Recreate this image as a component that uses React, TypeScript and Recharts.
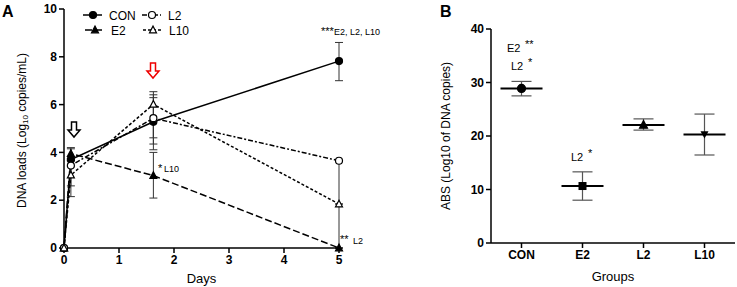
import { LineChart, Line, XAxis, YAxis, ErrorBar, ComposedChart } from 'recharts'

// panel A: DNA loads over time
const days = [0, 0.125, 1.625, 5]
const conLoad = [0, 3.7, 5.28, 7.82]
const e2Load = [0, 3.95, 3.03, 0]
const l2Load = [0, 3.45, 5.43, 3.65]
const l10Load = [0, 3.05, 6.01, 1.84]
const conErr = [[0, 0], [0.3, 0.45], [0.93, 1.01], [0.82, 0.78]]
const e2Err = [[0, 0], [0.3, 0.25], [0.94, 0.97], [0, 0]]
const l2Err = [[0, 0], [0.85, 0.3], [1.32, 0.98], [3.65, 0]]
const l10Err = [[0, 0], [0.9, 0.6], [1.4, 0.53], [0, 0]]
const dayTicks = [0, 1, 2, 3, 4, 5]
const loadTicks = [0, 2, 4, 6, 8, 10]

// panel B: ABS per group
const groups = ['CON', 'E2', 'L2', 'L10']
const absMean = [28.9, 10.65, 22.05, 20.3]
const absErr = [[1.4, 1.3], [2.65, 2.65], [0.95, 1.15], [3.85, 3.8]]
const absTicks = [0, 10, 20, 30, 40]

const timeData = days.map((d, i) => ({
  day: d,
  con: conLoad[i],
  e2: e2Load[i],
  l2: l2Load[i],
  l10: l10Load[i],
  conErr: conErr[i],
  e2Err: e2Err[i],
  l2Err: l2Err[i],
  l10Err: l10Err[i],
}))

const groupData = groups.map((g, i) => ({ group: g, abs: absMean[i], err: absErr[i] }))

const FONT = '"Liberation Sans", Arial, sans-serif'
const tickStyle = { fontSize: 12, fontWeight: 700, fill: '#000', fontFamily: FONT }

type Mark = 'circle' | 'openCircle' | 'triangle' | 'openTriangle' | 'square' | 'triangleDown'

function marker(kind: Mark, cx: number, cy: number, r = 3.5) {
  const filled = !kind.startsWith('open')
  const fill = filled ? '#000' : '#fff'
  if (kind === 'circle' || kind === 'openCircle')
    return <circle cx={cx} cy={cy} r={r} fill={fill} stroke="#000" strokeWidth={1.2} />
  if (kind === 'square')
    return <rect x={cx - r} y={cy - r} width={r * 2} height={r * 2} fill="#000" />
  if (kind === 'triangleDown')
    return <path d={`M${cx - r},${cy - r * 0.8} L${cx + r},${cy - r * 0.8} L${cx},${cy + r}Z`} fill="#000" />
  return (
    <path
      d={`M${cx},${cy - r * 1.1} L${cx + r},${cy + r * 0.8} L${cx - r},${cy + r * 0.8}Z`}
      fill={fill}
      stroke="#000"
      strokeWidth={1.2}
    />
  )
}

const dotFor = (kind: Mark) => (p: any) => <g key={`${kind}-${p.index}`}>{marker(kind, p.cx, p.cy)}</g>

const groupMarks: Mark[] = ['circle', 'square', 'triangle', 'triangleDown']
const groupDot = (p: any) => (
  <g key={`g-${p.index}`}>
    <line x1={p.cx - 21} x2={p.cx + 21} y1={p.cy} y2={p.cy} stroke="#000" strokeWidth={2} />
    {marker(groupMarks[p.index], p.cx, p.cy, 4)}
  </g>
)

const series = [
  { key: 'con', name: 'CON', dash: undefined, mark: 'circle' as Mark },
  { key: 'e2', name: 'E2', dash: '7 3', mark: 'triangle' as Mark },
  { key: 'l2', name: 'L2', dash: '5 2 2 2', mark: 'openCircle' as Mark },
  { key: 'l10', name: 'L10', dash: '3 2', mark: 'openTriangle' as Mark },
]

function LegendA() {
  const pos = [
    { s: series[0], x: 83, y: 15 },
    { s: series[2], x: 142, y: 15 },
    { s: series[1], x: 85, y: 30 },
    { s: series[3], x: 143, y: 30 },
  ]
  return (
    <g>
      {pos.map(({ s, x, y }) => (
        <g key={s.key}>
          <line x1={x} x2={x + 19} y1={y} y2={y} stroke="#000" strokeWidth={1.5} strokeDasharray={s.dash} />
          {marker(s.mark, x + 10, y)}
          <text x={x + 26} y={y + 4.5} fontSize={12} fill="#000">
            {s.name}
          </text>
        </g>
      ))}
    </g>
  )
}

function HollowArrow({ x, y, color }: { x: number; y: number; color: string }) {
  return (
    <path
      d={`M${x - 2.5},${y} L${x + 2.5},${y} L${x + 2.5},${y + 8} L${x + 6},${y + 8} L${x},${y + 15} L${x - 6},${y + 8} L${x - 2.5},${y + 8}Z`}
      fill="#fff"
      stroke={color}
      strokeWidth={1.5}
    />
  )
}

export default function App() {
  return (
    <div style={{ position: 'absolute', left: 0, top: 0, width: 737, height: 287, background: '#fff', fontFamily: FONT }}>
      <div style={{ position: 'absolute', left: 0, top: 0 }}>
        <LineChart width={430} height={287} data={timeData} margin={{ top: 9, right: 91, left: 0, bottom: 9 }}>
          <XAxis
            dataKey="day"
            type="number"
            domain={[0, 5]}
            ticks={dayTicks}
            tick={tickStyle}
            tickSize={5}
            height={30}
            stroke="#000"
            strokeWidth={1.5}
            label={{ value: 'Days', position: 'insideBottom', offset: -5, fontSize: 13, fill: '#000', fontFamily: FONT }}
          />
          <YAxis
            domain={[0, 10]}
            ticks={loadTicks}
            tick={tickStyle}
            tickSize={5}
            width={64}
            stroke="#000"
            strokeWidth={1.5}
            label={({ viewBox }: any) => {
              const cx = 23
              const cy = viewBox.y + viewBox.height / 2 + 2
              return (
                <text transform={`rotate(-90 ${cx} ${cy})`} x={cx} y={cy} textAnchor="middle" fontSize={12} fontFamily={FONT} fill="#000" dominantBaseline="middle">
                  DNA loads (Log<tspan fontSize={8} dy={3}>10</tspan>
                  <tspan dy={-3}> copies/mL)</tspan>
                </text>
              )
            }}
          />
          {series.map((s) => (
            <Line
              key={s.key}
              dataKey={s.key}
              name={s.name}
              stroke="#000"
              strokeWidth={1.5}
              strokeDasharray={s.dash}
              dot={dotFor(s.mark)}
              activeDot={false}
              isAnimationActive={false}
            >
              <ErrorBar dataKey={`${s.key}Err`} direction="y" width={4} stroke="#333" strokeWidth={1} />
            </Line>
          ))}
        </LineChart>
      </div>

      <div style={{ position: 'absolute', left: 420, top: 0 }}>
        <ComposedChart width={317} height={287} data={groupData} margin={{ top: 29, right: 2, left: 0, bottom: 14 }}>
          <XAxis
            dataKey="group"
            scale="band"
            tick={tickStyle}
            tickSize={5}
            height={30}
            stroke="#000"
            strokeWidth={1.5}
            label={{ value: 'Groups', position: 'insideBottom', offset: -8, fontSize: 13, fill: '#000', fontFamily: FONT }}
          />
          <YAxis
            domain={[0, 40]}
            ticks={absTicks}
            tick={tickStyle}
            tickSize={5}
            width={71}
            stroke="#000"
            strokeWidth={1.5}
            label={{ value: 'ABS (Log10 of DNA copies)', angle: -90, position: 'insideLeft', offset: 26, fontSize: 12, fill: '#000', fontFamily: FONT, style: { textAnchor: 'middle' } }}
          />
          <Line dataKey="abs" stroke="none" dot={groupDot} activeDot={false} isAnimationActive={false}>
            <ErrorBar dataKey="err" direction="y" width={10} stroke="#555" strokeWidth={1.2} />
          </Line>
        </ComposedChart>
      </div>

      <svg width={737} height={287} style={{ position: 'absolute', left: 0, top: 0, pointerEvents: 'none' }} fontFamily={FONT} fill="#000">
        <LegendA />
        <text x={2} y={17} fontSize={16} fontWeight={700}>A</text>
        <text x={440} y={17} fontSize={16} fontWeight={700}>B</text>
        <HollowArrow x={74} y={122} color="#000" />
        <HollowArrow x={153} y={63} color="#e00" />
        <text x={321} y={35} fontSize={11}>***</text>
        <text x={334} y={35} fontSize={9}>E2, L2, L10</text>
        <text x={158} y={172} fontSize={11}>*</text>
        <text x={164} y={172} fontSize={9}>L10</text>
        <text x={340} y={243} fontSize={11}>**</text>
        <text x={353} y={244} fontSize={9}>L2</text>
        <text x={507} y={52} fontSize={11}>E2</text>
        <text x={525} y={48} fontSize={11}>**</text>
        <text x={511} y={70} fontSize={11}>L2</text>
        <text x={528} y={66} fontSize={11}>*</text>
        <text x={571} y={161} fontSize={11}>L2</text>
        <text x={588} y={157} fontSize={11}>*</text>
      </svg>
    </div>
  )
}
